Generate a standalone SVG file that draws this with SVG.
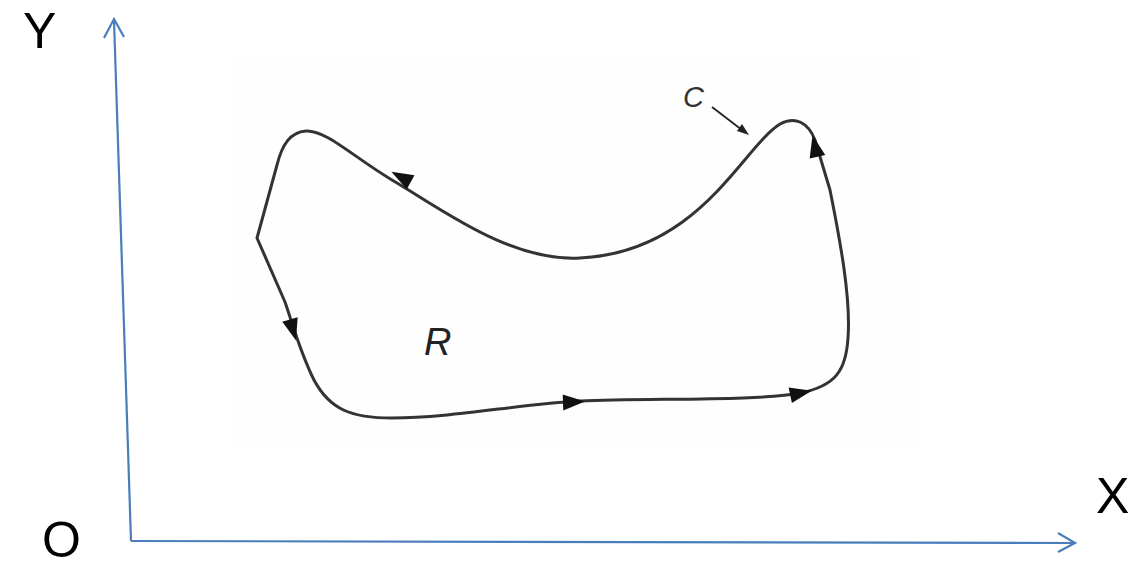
<svg xmlns="http://www.w3.org/2000/svg" width="1137" height="567" viewBox="0 0 1137 567">
<style>
.axis{fill:none;stroke:#4a7ebb;stroke-width:2.2}
.lbl{font-family:"Liberation Sans",Arial,sans-serif;font-size:50px;fill:#000}
.curve{fill:none;stroke:#333;stroke-width:3;stroke-linejoin:round}
.ah{fill:#111}
</style>
<defs>
<path id="ah" d="M11,0 L-11,-8 L-11,8 Z"/>
</defs>
<rect x="236" y="55" width="684" height="395" fill="#fefefe"/>
<g id="axes">
<path class="axis" d="M131,541 L114,20 M104,38 L114,19 L124,37"/>
<path class="axis" d="M131,541 L1074,543 M1058,533 L1075,543 L1058,552"/>
</g>
<g id="labels">
<text class="lbl" x="23" y="48">Y</text>
<text class="lbl" x="1096" y="513">X</text>
<text class="lbl" x="42" y="557">O</text>
</g>
<g id="region">
<path class="curve" d="M257,238 L285,302 C292,322 300,352 314,380 C330,410 352,418 392,418 C452,418 520,404 580,401 C650,398 760,401 800,393 C836,386 846,370 848,338 C851,298 840,240 830,190 L815,140 C808,122 795,116 780,124 C742,148 700,252 580,258 C510,262 440,208 392,180 C352,156 326,130 306,131 C290,132 282,145 277,165 Z"/>
<use href="#ah" class="ah" transform="translate(293,330) rotate(74)"/>
<use href="#ah" class="ah" transform="translate(401,177) rotate(209)"/>
<use href="#ah" class="ah" transform="translate(815,146) rotate(257)"/>
<use href="#ah" class="ah" transform="translate(574,402) rotate(-2)"/>
<use href="#ah" class="ah" transform="translate(801,393) rotate(-12)"/>
<text x="424" y="355" font-family="Liberation Sans,Arial,sans-serif" font-style="italic" font-size="38" fill="#222">R</text>
</g>
<g id="label-c">
<text x="683" y="107" font-family="Liberation Sans,Arial,sans-serif" font-style="italic" font-size="29" fill="#333">C</text>
<path d="M712,107 L742,130" stroke="#222" stroke-width="1.8" fill="none"/>
<path d="M749,135 L737,131 L742,124 Z" fill="#222"/>
</g>
</svg>
